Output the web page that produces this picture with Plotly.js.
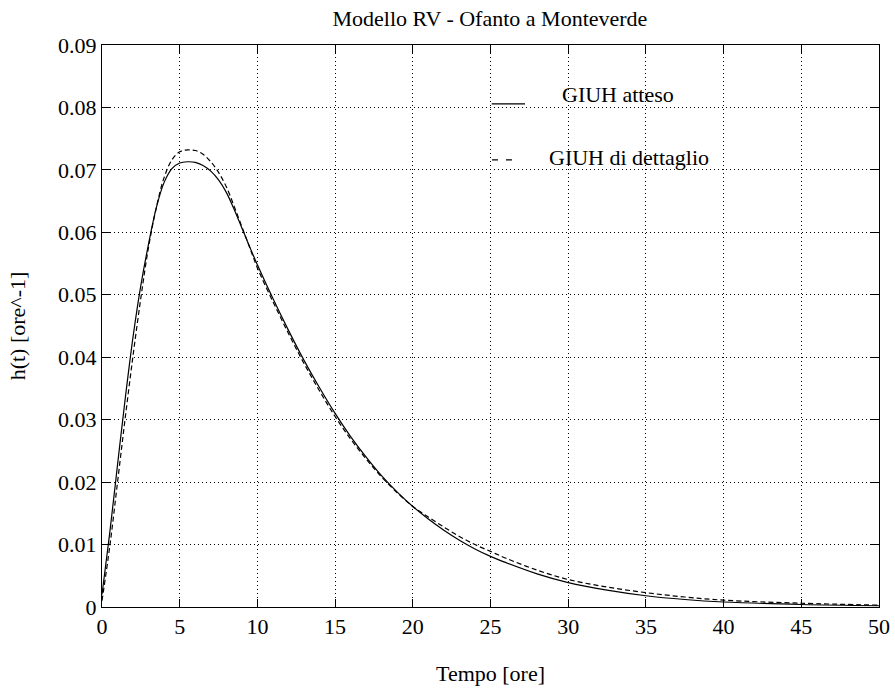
<!DOCTYPE html>
<html>
<head>
<meta charset="utf-8">
<script src="https://cdn.plot.ly/plotly-3.0.1.min.js"></script>
<style>html,body{margin:0;padding:0;background:#fff;}#chart{width:895px;height:691px;}</style>
</head>
<body>
<div id="chart"></div>
<script>
// Series: GIUH atteso (solid)
const tAtteso = [0, 0.5, 1, 1.5, 2, 2.5, 3, 3.5, 4, 4.5, 5, 5.5, 6, 6.5, 7, 7.5, 8, 8.5, 9, 9.5, 10, 11, 12, 13, 14, 15, 16, 17, 18, 19, 20, 21, 22, 23, 24, 25, 26, 28, 30, 32.5, 35, 37.5, 40, 45, 50];
const hAtteso = [0.002, 0.0119, 0.0228, 0.0335, 0.0433, 0.0515, 0.0582, 0.0640, 0.0680, 0.0702, 0.0711, 0.0713, 0.0712, 0.0707, 0.0698, 0.0684, 0.0664, 0.0637, 0.0607, 0.0577, 0.0548, 0.0494, 0.0443, 0.0395, 0.0351, 0.0310, 0.0273, 0.0240, 0.0210, 0.0184, 0.0161, 0.0141, 0.0123, 0.0107, 0.0093, 0.0081, 0.0071, 0.0053, 0.0039, 0.0027, 0.0018, 0.0012, 0.0008, 0.0004, 0.0002];
// Series: GIUH di dettaglio (dashed)
const tDettaglio = [0, 0.5, 1, 1.5, 2, 2.5, 3, 3.5, 4, 4.5, 5, 5.5, 6, 6.5, 7, 7.5, 8, 8.5, 9, 9.5, 10, 11, 12, 13, 14, 15, 16, 17, 18, 19, 20, 21, 22, 23, 24, 25, 26, 28, 30, 32.5, 35, 37.5, 40, 45, 50];
const hDettaglio = [0.001, 0.0097, 0.0200, 0.0304, 0.0403, 0.0495, 0.0577, 0.0640, 0.0688, 0.0716, 0.0729, 0.0732, 0.0731, 0.0725, 0.0713, 0.0696, 0.0673, 0.0642, 0.0609, 0.0576, 0.0543, 0.0489, 0.0438, 0.0390, 0.0346, 0.0305, 0.0269, 0.0237, 0.0208, 0.0183, 0.0161, 0.0144, 0.0128, 0.0113, 0.0100, 0.0089, 0.0078, 0.0059, 0.0044, 0.0032, 0.0023, 0.0016, 0.0011, 0.0006, 0.0003];
// Ticks
const xTicks = [0, 5, 10, 15, 20, 25, 30, 35, 40, 45, 50];
const yTicks = [0, 0.01, 0.02, 0.03, 0.04, 0.05, 0.06, 0.07, 0.08, 0.09];
const yTickText = ['0', '0.01', '0.02', '0.03', '0.04', '0.05', '0.06', '0.07', '0.08', '0.09'];
const legendNames = ['GIUH atteso', 'GIUH di dettaglio'];

const FONT = 'Liberation Serif';

const traces = [
  {x: tAtteso, y: hAtteso, mode: 'lines', name: legendNames[0],
   line: {color: '#000', width: 1.2, shape: 'spline', smoothing: 1}},
  {x: tDettaglio, y: hDettaglio, mode: 'lines', name: legendNames[1],
   line: {color: '#000', width: 1.2, dash: '5px,3px', shape: 'spline', smoothing: 1}}
];

const axisCommon = {
  showline: true, linecolor: '#000', linewidth: 1, mirror: 'ticks',
  ticks: 'inside', ticklen: 8, tickcolor: '#000', tickwidth: 1,
  showgrid: true, gridcolor: '#000', gridwidth: 1, griddash: '1px,3px',
  zeroline: false, tickfont: {family: FONT, size: 22, color: '#000'}
};

const layout = {
  width: 895, height: 691,
  margin: {l: 102, r: 16, t: 45, b: 84},
  paper_bgcolor: '#fff', plot_bgcolor: '#fff',
  showlegend: false,
  font: {family: FONT, size: 22, color: '#000'},
  title: {text: 'Modello RV - Ofanto a Monteverde', font: {family: FONT, size: 22, color: '#000'},
          x: 0.5474, xanchor: 'center', y: 0.974, yanchor: 'middle'},
  xaxis: Object.assign({}, axisCommon, {
    range: [0, 50], tickvals: xTicks, ticktext: xTicks.map(String),
    title: {text: 'Tempo [ore]', font: {family: FONT, size: 22, color: '#000'}, standoff: 27}
  }),
  yaxis: Object.assign({}, axisCommon, {
    range: [0, 0.09], tickvals: yTicks, ticktext: yTickText,
    title: {text: 'h(t) [ore^-1]', font: {family: FONT, size: 22, color: '#000'}, standoff: 26}
  }),
  shapes: [
    {type: 'line', xref: 'paper', yref: 'paper', x0: 0.5015, x1: 0.5444, y0: 0.8951, y1: 0.8951,
     line: {color: '#000', width: 1.2}},
    {type: 'line', xref: 'paper', yref: 'paper', x0: 0.5019, x1: 0.5277, y0: 0.7956, y1: 0.7956,
     line: {color: '#000', width: 1.2, dash: '6px,8px'}}
  ],
  annotations: [
    {text: legendNames[0], xref: 'paper', yref: 'paper', x: 0.5894, y: 0.9111, xanchor: 'left', yanchor: 'middle',
     showarrow: false, font: {family: FONT, size: 22, color: '#000'}},
    {text: legendNames[1], xref: 'paper', yref: 'paper', x: 0.5723, y: 0.7991, xanchor: 'left', yanchor: 'middle',
     showarrow: false, font: {family: FONT, size: 22, color: '#000'}}
  ]
};

Plotly.newPlot('chart', traces, layout, {displayModeBar: false, staticPlot: true});
</script>
</body>
</html>
